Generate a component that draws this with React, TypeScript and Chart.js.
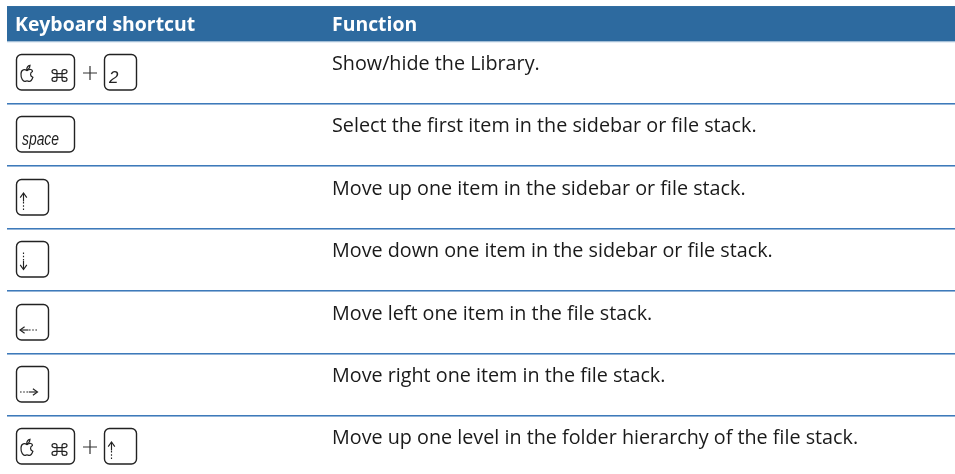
import React, { useEffect, useRef } from "react";
import { Chart, registerables } from "chart.js";

Chart.register(...registerables);

// ---- data ----
const headers: string[] = ["Keyboard shortcut", "Function"];
const shortcuts: string[][] = [
  ["cmd", "2"],
  ["space"],
  ["up"],
  ["down"],
  ["left"],
  ["right"],
  ["cmd", "up"],
];
const functions: string[] = [
  "Show/hide the Library.",
  "Select the first item in the sidebar or file stack.",
  "Move up one item in the sidebar or file stack.",
  "Move down one item in the sidebar or file stack.",
  "Move left one item in the file stack.",
  "Move right one item in the file stack.",
  "Move up one level in the folder hierarchy of the file stack.",
];

// ---- layout / style ----
const W = 955;
const H = 474;
const HEADER_TOP = -0.57; // in row units
const Y_MIN = -2 / 3;
const Y_MAX = 6.93;
const TABLE_LEFT = 7;
const TABLE_RIGHT = 955;
const KEY_COL = 16;
const TEXT_COL = 332;
const HEADER_BLUE = "#2d6a9f";
const SEP_DARK = "#3e7aba";
const SEP_LIGHT = "#93b4d8";
const TEXT_COLOR = "#1a1a1a";
const KEY_STROKE = "#222222";
const BODY_FONT = '19.75px "Open Sans"';
const HEAD_FONT = 'bold 19.4px "Open Sans"';

function keyWidth(k: string): number {
  if (k === "cmd" || k === "space") return 58;
  return 32;
}

function drawApple(ctx: CanvasRenderingContext2D, cx: number, cy: number, s: number) {
  ctx.beginPath();
  ctx.moveTo(cx, cy - s * 0.62);
  ctx.bezierCurveTo(cx + s * 0.35, cy - s * 0.95, cx + s * 0.95, cy - s * 0.95, cx + s * 0.9, cy - s * 0.5);
  ctx.bezierCurveTo(cx + s * 0.45, cy - s * 0.25, cx + s * 0.5, cy + s * 0.3, cx + s * 0.98, cy + s * 0.45);
  ctx.bezierCurveTo(cx + s * 0.8, cy + s * 0.95, cx + s * 0.55, cy + s * 1.2, cx + s * 0.3, cy + s * 1.12);
  ctx.quadraticCurveTo(cx, cy + s * 1.0, cx - s * 0.3, cy + s * 1.12);
  ctx.bezierCurveTo(cx - s * 0.6, cy + s * 1.2, cx - s * 1.05, cy + s * 0.7, cx - s * 1.0, cy - s * 0.1);
  ctx.bezierCurveTo(cx - s * 0.98, cy - s * 0.9, cx - s * 0.35, cy - s * 0.95, cx, cy - s * 0.62);
  ctx.stroke();
  // leaf
  ctx.beginPath();
  ctx.moveTo(cx - s * 0.05, cy - s * 0.75);
  ctx.quadraticCurveTo(cx - s * 0.05, cy - s * 1.45, cx + s * 0.5, cy - s * 1.55);
  ctx.quadraticCurveTo(cx + s * 0.45, cy - s * 0.9, cx - s * 0.05, cy - s * 0.75);
  ctx.stroke();
}

function drawCommand(ctx: CanvasRenderingContext2D, cx: number, cy: number, ex: number, ey: number) {
  const cxo = 0.67 * ex;
  const rxo = 0.33 * ex;
  const cyo = 0.67 * ey;
  const ryo = 0.33 * ey;
  const corners: [number, number, number][] = [
    [-1, -1, 0],
    [1, -1, Math.PI / 2],
    [1, 1, Math.PI],
    [-1, 1, (3 * Math.PI) / 2],
  ];
  ctx.beginPath();
  corners.forEach(([sx, sy, lo]) => {
    const x = cx + sx * cxo;
    const y = cy + sy * cyo;
    ctx.moveTo(x + rxo * Math.cos(lo + Math.PI / 2), y + ryo * Math.sin(lo + Math.PI / 2));
    ctx.ellipse(x, y, rxo, ryo, 0, lo + Math.PI / 2, lo + 2 * Math.PI, false);
  });
  const ix = cxo - rxo;
  const iy = cyo - ryo;
  ctx.moveTo(cx - ix, cy - cyo);
  ctx.lineTo(cx - ix, cy + cyo);
  ctx.moveTo(cx + ix, cy - cyo);
  ctx.lineTo(cx + ix, cy + cyo);
  ctx.moveTo(cx - cxo, cy - iy);
  ctx.lineTo(cx + cxo, cy - iy);
  ctx.moveTo(cx - cxo, cy + iy);
  ctx.lineTo(cx + cxo, cy + iy);
  ctx.stroke();
}

function drawArrow(ctx: CanvasRenderingContext2D, x0: number, y0: number, x1: number, y1: number) {
  const dx = x1 - x0;
  const dy = y1 - y0;
  const len = Math.hypot(dx, dy);
  const ux = dx / len;
  const uy = dy / len;
  const mx = x0 + dx * 0.5;
  const my = y0 + dy * 0.5;
  ctx.save();
  ctx.lineWidth = 1.15;
  ctx.setLineDash([1.6, 1.6]);
  ctx.beginPath();
  ctx.moveTo(x0, y0);
  ctx.lineTo(mx, my);
  ctx.stroke();
  ctx.setLineDash([]);
  ctx.beginPath();
  ctx.moveTo(mx, my);
  ctx.lineTo(x1 - ux * 0.5, y1 - uy * 0.5);
  ctx.stroke();
  ctx.beginPath();
  const hl = 4.6;
  const hw = 3.3;
  ctx.moveTo(x1 - ux * hl - uy * hw, y1 - uy * hl + ux * hw);
  ctx.lineTo(x1, y1);
  ctx.lineTo(x1 - ux * hl + uy * hw, y1 - uy * hl - ux * hw);
  ctx.stroke();
  ctx.restore();
}

function drawKey(ctx: CanvasRenderingContext2D, k: string, x: number, top: number) {
  const w = keyWidth(k);
  const h = 35.5;
  ctx.save();
  ctx.strokeStyle = KEY_STROKE;
  ctx.fillStyle = KEY_STROKE;
  ctx.lineWidth = 1.4;
  ctx.beginPath();
  ctx.roundRect(x + 0.5, top + 0.5, w, h, 5);
  ctx.stroke();
  ctx.lineWidth = 1.2;
  if (k === "cmd") {
    drawApple(ctx, x + 11, top + 20.6, 6.0);
    drawCommand(ctx, x + 43.5, top + 21.5, 7.5, 5.8);
  } else if (k === "2") {
    ctx.font = 'italic 17px "Liberation Sans"';
    ctx.textAlign = "left";
    ctx.textBaseline = "alphabetic";
    ctx.fillText("2", x + 5, top + 29);
  } else if (k === "space") {
    ctx.font = 'italic 18.5px "Liberation Sans"';
    ctx.textAlign = "left";
    ctx.textBaseline = "alphabetic";
    const tw = ctx.measureText("space").width;
    ctx.translate(x + 6, top + 28.5);
    ctx.scale(37 / tw, 1);
    ctx.fillText("space", 0, 0);
  } else if (k === "up") {
    drawArrow(ctx, x + 7.5, top + 31, x + 7.5, top + 14);
  } else if (k === "down") {
    drawArrow(ctx, x + 7.5, top + 11.5, x + 7.5, top + 28.5);
  } else if (k === "left") {
    drawArrow(ctx, x + 21, top + 26, x + 4, top + 26);
  } else if (k === "right") {
    drawArrow(ctx, x + 4, top + 26, x + 21.5, top + 26);
  }
  ctx.restore();
  return w;
}

const tablePlugin = {
  id: "tablePlugin",
  afterDraw(chart: any) {
    const ctx: CanvasRenderingContext2D = chart.ctx;
    const xS = chart.scales.x;
    const yS = chart.scales.y;
    const left = xS.getPixelForValue(TABLE_LEFT);
    const right = xS.getPixelForValue(TABLE_RIGHT);
    ctx.save();
    const hTop = yS.getPixelForValue(HEADER_TOP);
    const hBot = yS.getPixelForValue(0);
    ctx.fillStyle = HEADER_BLUE;
    ctx.fillRect(left, hTop, right - left, hBot - hTop);
    ctx.fillStyle = "#d6e3f0";
    ctx.fillRect(left, hBot, right - left, 1);
    ctx.fillStyle = "#ffffff";
    ctx.font = HEAD_FONT;
    ctx.textBaseline = "alphabetic";
    ctx.textAlign = "left";
    ctx.fillText(headers[0], xS.getPixelForValue(KEY_COL - 1), hTop + 25);
    ctx.fillText(headers[1], xS.getPixelForValue(TEXT_COL), hTop + 25);

    const n = functions.length;
    for (let i = 0; i < n; i++) {
      const top = yS.getPixelForValue(i);
      const bot = yS.getPixelForValue(i + 1);
      if (i < n - 1) {
        ctx.fillStyle = SEP_DARK;
        ctx.fillRect(left, Math.round(bot) - 1, right - left, 1);
        ctx.fillStyle = SEP_LIGHT;
        ctx.fillRect(left, Math.round(bot), right - left, 1);
      }
      ctx.fillStyle = TEXT_COLOR;
      ctx.font = BODY_FONT;
      ctx.textAlign = "left";
      ctx.textBaseline = "alphabetic";
      ctx.fillText(functions[i], xS.getPixelForValue(TEXT_COL), top + 28.5);

      let x = xS.getPixelForValue(KEY_COL);
      const keyTop = Math.round(top + 12.5);
      const keys = shortcuts[i];
      keys.forEach((k, j) => {
        const w = drawKey(ctx, k, x, keyTop);
        x += w;
        if (j < keys.length - 1) {
          const pc = x + 16;
          const pcY = keyTop + 19;
          ctx.save();
          ctx.strokeStyle = "#333";
          ctx.lineWidth = 1.2;
          ctx.beginPath();
          ctx.moveTo(pc - 7, pcY);
          ctx.lineTo(pc + 7, pcY);
          ctx.moveTo(pc, pcY - 7);
          ctx.lineTo(pc, pcY + 7);
          ctx.stroke();
          ctx.restore();
          x += 30;
        }
      });
    }
    ctx.restore();
  },
};

export default function App() {
  const ref = useRef<HTMLCanvasElement | null>(null);
  useEffect(() => {
    if (!ref.current) return;
    const chart = new Chart(ref.current, {
      type: "scatter",
      data: {
        datasets: [
          {
            data: functions.map((_, i) => ({ x: TEXT_COL, y: i + 0.5 })),
            pointRadius: 0,
            pointHoverRadius: 0,
          },
        ],
      },
      options: {
        responsive: false,
        animation: false,
        layout: { padding: 0 },
        plugins: { legend: { display: false }, tooltip: { enabled: false } },
        scales: {
          x: { type: "linear", min: 0, max: W, display: false },
          y: { type: "linear", min: Y_MIN, max: Y_MAX, reverse: true, display: false },
        },
      },
      plugins: [tablePlugin],
    });
    return () => chart.destroy();
  }, []);
  return (
    <div style={{ position: "fixed", left: 0, top: 0, width: W, height: H, background: "#fff" }}>
      <canvas ref={ref} width={W} height={H} style={{ display: "block" }} />
    </div>
  );
}
